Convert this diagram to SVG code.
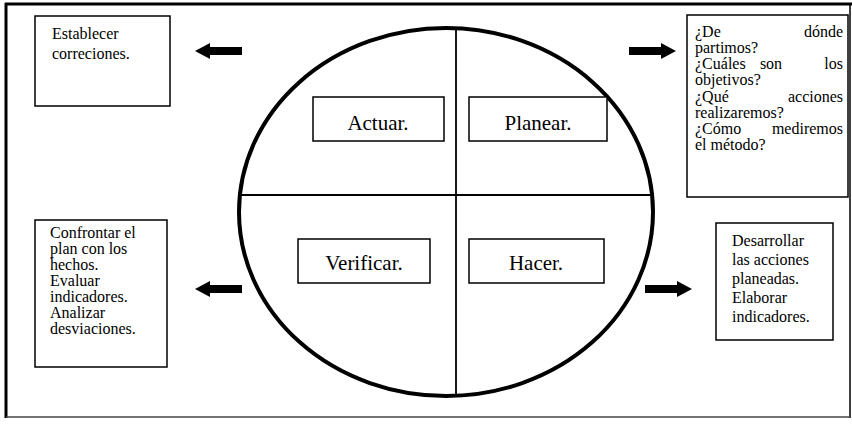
<svg xmlns="http://www.w3.org/2000/svg" width="852" height="427" viewBox="0 0 852 427">
<style>
.box{fill:#fff;stroke:#000;stroke-width:1.5}
text{font-family:"Liberation Serif","Times New Roman",serif;fill:#000}
.t{font-size:16px}
.big{font-size:21px;text-anchor:middle}
.e{text-anchor:end}
.m{text-anchor:middle}
</style>
<defs>
<path id="arr" d="M0,-4 H32 V-8 L47,0 L32,8 V4 H0 Z" fill="#000"/>
</defs>
<rect width="852" height="427" fill="#fff"/>
<g id="frame" stroke="#000" fill="none">
<line x1="6" y1="3" x2="6" y2="418" stroke-width="3"/>
<line x1="5" y1="4" x2="852" y2="4" stroke-width="3"/>
<line x1="850" y1="4" x2="850" y2="418" stroke-width="1.5"/>
<line x1="6" y1="417" x2="850" y2="417" stroke-width="1.5" stroke="#444"/>
</g>
<g id="cycle">
<ellipse cx="446" cy="212" rx="207" ry="184" fill="none" stroke="#000" stroke-width="4"/>
<line x1="240" y1="195" x2="653" y2="195" stroke="#000" stroke-width="1.8"/>
<line x1="456" y1="28" x2="456" y2="396" stroke="#000" stroke-width="1.8"/>
</g>
<g id="actuar"><rect class="box" x="313" y="97" width="131" height="44"/><text class="big" x="378" y="130">Actuar.</text></g>
<g id="planear"><rect class="box" x="469" y="97" width="138" height="44"/><text class="big" x="538" y="130">Planear.</text></g>
<g id="verificar"><rect class="box" x="298" y="239" width="132" height="44"/><text class="big" x="364" y="270">Verificar.</text></g>
<g id="hacer"><rect class="box" x="469" y="239" width="135" height="44"/><text class="big" x="536" y="270">Hacer.</text></g>
<g id="establecer"><rect class="box" x="35" y="16" width="135" height="90"/>
<text class="t" x="52" y="39">Establecer</text>
<text class="t" x="52" y="59">correciones.</text></g>
<g id="confrontar"><rect class="box" x="35" y="220" width="132" height="147"/>
<text class="t" x="50" y="238">Confrontar el</text>
<text class="t" x="50" y="254">plan con los</text>
<text class="t" x="50" y="270">hechos.</text>
<text class="t" x="50" y="286">Evaluar</text>
<text class="t" x="50" y="302">indicadores.</text>
<text class="t" x="50" y="318">Analizar</text>
<text class="t" x="50" y="334">desviaciones.</text></g>
<g id="preguntas"><rect class="box" x="687" y="15" width="161" height="182"/>
<text class="t" x="695" y="37">¿De</text><text class="t e" x="843" y="37">dónde</text>
<text class="t" x="695" y="53">partimos?</text>
<text class="t" x="695" y="69">¿Cuáles</text><text class="t m" x="771" y="69">son</text><text class="t e" x="843" y="69">los</text>
<text class="t" x="695" y="85">objetivos?</text>
<text class="t" x="695" y="102">¿Qué</text><text class="t e" x="843" y="102">acciones</text>
<text class="t" x="695" y="118">realizaremos?</text>
<text class="t" x="695" y="134">¿Cómo</text><text class="t e" x="843" y="134">mediremos</text>
<text class="t" x="695" y="150">el método?</text></g>
<g id="desarrollar"><rect class="box" x="716" y="223" width="117" height="117"/>
<text class="t" x="732" y="246">Desarrollar</text>
<text class="t" x="732" y="265">las acciones</text>
<text class="t" x="732" y="284">planeadas.</text>
<text class="t" x="732" y="303">Elaborar</text>
<text class="t" x="732" y="322">indicadores.</text></g>
<g id="connectors">
<use href="#arr" transform="translate(242,51) scale(-1,1)"/>
<use href="#arr" transform="translate(242,289) scale(-1,1)"/>
<use href="#arr" transform="translate(629,51)"/>
<use href="#arr" transform="translate(645,289)"/>
</g>
</svg>
